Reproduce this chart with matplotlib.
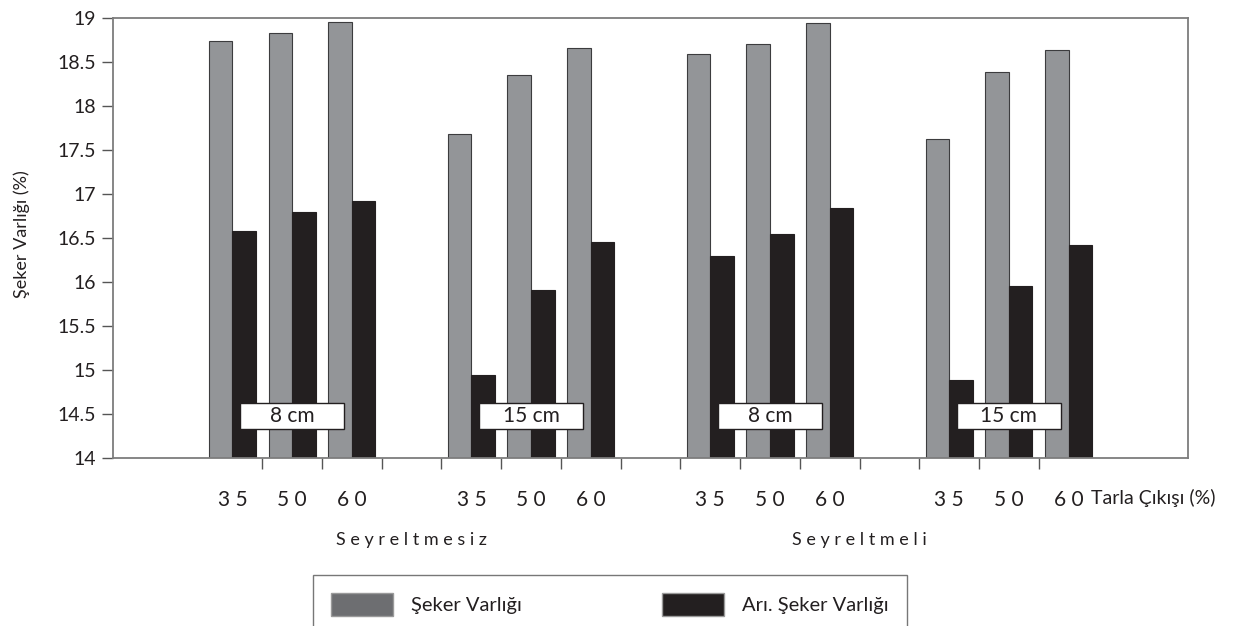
import matplotlib
matplotlib.use("Agg")
import matplotlib.pyplot as plt
import matplotlib.transforms as mtransforms
from matplotlib.patches import Patch, Rectangle

# ---- data ----
thinning = ["S e y r e l t m e s i z", "S e y r e l t m e l i"]
spacing = ["8 cm", "15 cm", "8 cm", "15 cm"]
emergence = ["3 5", "5 0", "6 0"]
seker = [18.74, 18.83, 18.95, 17.68, 18.35, 18.66,
         18.59, 18.70, 18.94, 17.62, 18.39, 18.64]
ari_seker = [16.58, 16.80, 16.92, 14.94, 15.91, 16.45,
             16.30, 16.55, 16.84, 14.89, 15.95, 16.42]
yticks = [14, 14.5, 15, 15.5, 16, 16.5, 17, 17.5, 18, 18.5, 19]

FONT = ["Lato", "DejaVu Sans"]
plt.rcParams["font.family"] = FONT
DARK = "#231f20"
GREY = "#939598"

W, H = 1235, 626
fig = plt.figure(figsize=(W / 100, H / 100), dpi=100)
ax = fig.add_axes([113 / W, 1 - 458 / H, 1075 / W, 440 / H])

# category positions: 3 per block, one empty slot between blocks
pos = [i + i // 3 for i in range(len(seker))]
bw = 0.395
ax.bar([p - bw / 2 for p in pos], [v - 14 for v in seker], bottom=14, width=bw,
       color=GREY, edgecolor="#3c3c3e", linewidth=0.8, zorder=2)
ax.bar([p + bw / 2 for p in pos], [v - 14 for v in ari_seker], bottom=14, width=bw,
       color=DARK, edgecolor=DARK, linewidth=0.8, zorder=2)

ax.set_xlim(-2, 16)
ax.set_ylim(14, 19)

# y axis
ax.set_yticks(yticks)
ax.set_yticklabels([f"{t:g}" for t in yticks])
ax.tick_params(axis="y", length=8, width=1, color="#555555", pad=4.5,
               labelsize=14, labelcolor=DARK)

# x axis: labels at categories, tick marks at category boundaries
ax.set_xticks(pos)
ax.set_xticklabels(emergence * 4)
ax.tick_params(axis="x", which="major", length=0, pad=30, labelsize=15,
               labelcolor=DARK)
for lab in ax.get_xticklabels():
    lab.set_verticalalignment("center")
ax.set_xticks([p + 0.5 for p in range(14)], minor=True)
ax.tick_params(axis="x", which="minor", length=8, width=1, color="#555555")

for s in ax.spines.values():
    s.set_color("#7d7d7d")
    s.set_linewidth(1.3)

# spacing boxes
bx_w, bx_y0, bx_y1 = 1.745, 14.33, 14.625
for k, lab in enumerate(spacing):
    c = pos[3 * k + 1]
    ax.add_patch(Rectangle((c - bx_w / 2, bx_y0), bx_w, bx_y1 - bx_y0,
                           facecolor="white", edgecolor=DARK, linewidth=1, zorder=3))
    ax.text(c, (bx_y0 + bx_y1) / 2, lab, ha="center", va="center",
            fontsize=15, color=DARK, zorder=4)

# group labels
trans = mtransforms.blended_transform_factory(ax.transData, ax.transAxes)
ax.text(3, -0.186, thinning[0], transform=trans, ha="center", va="center",
        fontsize=13, color=DARK)
ax.text(10.5, -0.186, thinning[1], transform=trans, ha="center", va="center",
        fontsize=13, color=DARK)

fig.text(1091 / W, 1 - 498 / H, "Tarla Çıkışı (%)", ha="left", va="center",
         fontsize=14, color=DARK)
fig.text(22 / W, 1 - 234 / H, "Şeker Varlığı (%)", rotation=90, ha="center",
         va="center", fontsize=13, color=DARK)

handles = [Patch(facecolor="#6d6e71", edgecolor="#9a9a9a"),
           Patch(facecolor=DARK, edgecolor="#9a9a9a")]
leg = fig.legend(handles, ["Şeker Varlığı", "Arı. Şeker Varlığı"],
                 loc="upper left", bbox_to_anchor=(313 / W, 1 - 575 / H),
                 bbox_transform=fig.transFigure, borderaxespad=0, ncol=2,
                 frameon=True, fancybox=False, edgecolor="#555555",
                 fontsize=14.5, handlelength=3.08, handleheight=1.34,
                 handletextpad=0.9, columnspacing=6.95, borderpad=0.9)
leg.get_frame().set_linewidth(1)
for t in leg.get_texts():
    t.set_color(DARK)

fig.savefig("out.png", dpi=100, facecolor="white")
